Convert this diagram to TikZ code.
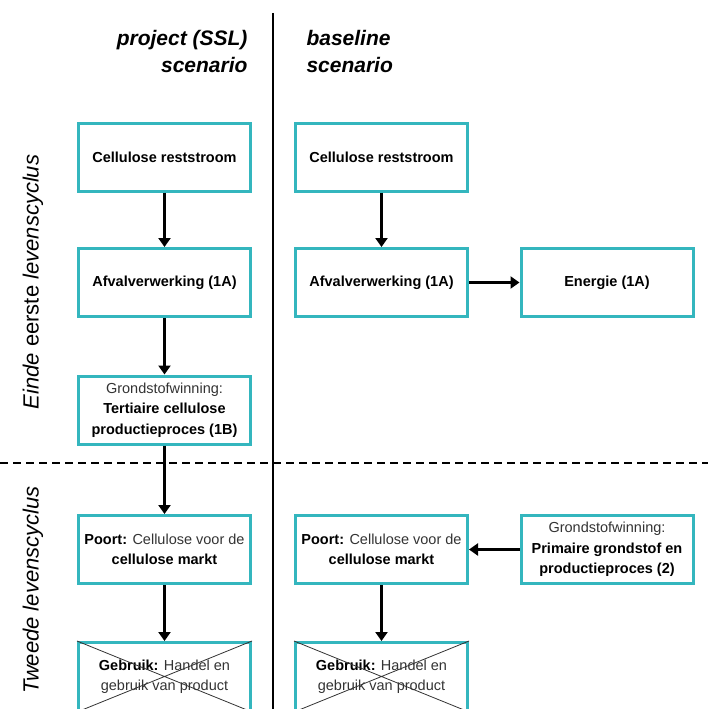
\documentclass[tikz,border=0pt]{standalone}
\usepackage{fontspec}
\setmainfont{Liberation Sans}
\usetikzlibrary{arrows.meta}
\definecolor{boxteal}{RGB}{52,182,190}
\definecolor{txtgray}{RGB}{51,51,51}
\newcommand{\vet}[1]{\textcolor{black}{\textbf{#1}}}

\begin{document}
\begin{tikzpicture}[x=1pt,y=-1pt,
    stap/.style={draw=boxteal,line width=3pt,minimum width=172pt,minimum height=68pt,
      align=center,inner sep=2pt,text=txtgray,font=\fontsize{14.5}{20.5}\selectfont},
    pijl/.style={-{Triangle[width=12pt,length=9pt]},line width=2.8pt},
    kop/.style={font=\fontsize{21}{27}\selectfont\bfseries\itshape},
    zij/.style={rotate=90,font=\fontsize{22}{26}\selectfont}]
    \useasboundingbox (0,0) rectangle (708,709);

    % scheidingslijnen
    \coordinate (lijnboven) at (273,13);
    \coordinate (lijnonder) at (273,709);
    \coordinate (streeplinks) at (0,463);
    \coordinate (streeprechts) at (708,463);
    \draw [line width=2pt] (lijnboven) -- (lijnonder);
    \draw [line width=2pt,dash pattern=on 8pt off 5pt] (streeplinks) -- (streeprechts);

    % koppen
    \node[kop,anchor=east,align=right] (kopproject) at (251,51) {project (SSL)\\scenario};
    \node[kop,anchor=west,align=left] (kopbaseline) at (303,51) {baseline\\scenario};
    \node[zij] (eerste) at (33,282) {\textit{Einde} eerste \textit{levenscyclus}};
    \node[zij] (tweede) at (33,590) {\textit{Tweede levenscyclus}};

    % project scenario
    \node[stap] (reststroomP) at (164.5,157) {\vet{Cellulose reststroom}};
    \node[stap] (afvalP) at (164.5,282.5) {\vet{Afvalverwerking (1A)}};
    \node[stap] (tertiairP) at (164.5,410) {Grondstofwinning:\\\vet{Tertiaire cellulose}\\\vet{productieproces (1B)}};
    \node[stap] (poortP) at (164.5,549.5) {\vet{Poort:} Cellulose voor de\\\vet{cellulose markt}};
    \node[stap] (gebruikP) at (164.5,676.5) {\vet{Gebruik:} Handel en\\gebruik van product};

    % baseline scenario
    \node[stap] (reststroomB) at (381.5,157) {\vet{Cellulose reststroom}};
    \node[stap] (afvalB) at (381.5,282.5) {\vet{Afvalverwerking (1A)}};
    \node[stap] (energieB) at (607,282.5) {\vet{Energie (1A)}};
    \node[stap] (poortB) at (381.5,549.5) {\vet{Poort:} Cellulose voor de\\\vet{cellulose markt}};
    \node[stap] (primairB) at (607,549.5) {Grondstofwinning:\\\vet{Primaire grondstof en}\\\vet{productieproces (2)}};
    \node[stap] (gebruikB) at (381.5,676.5) {\vet{Gebruik:} Handel en\\gebruik van product};

    % kruizen
    \draw [txtgray,line width=0.8pt] (gebruikP.north west) -- (gebruikP.south east)
        (gebruikP.north east) -- (gebruikP.south west);
    \draw [txtgray,line width=0.8pt] (gebruikB.north west) -- (gebruikB.south east)
        (gebruikB.north east) -- (gebruikB.south west);

    \draw [pijl] (reststroomP) -- (afvalP);
    \draw [pijl] (afvalP) -- (tertiairP);
    \draw [pijl] (tertiairP) -- (poortP);
    \draw [pijl] (poortP) -- (gebruikP);

    \draw [pijl] (reststroomB) -- (afvalB);
    \draw [pijl] (afvalB) -- (energieB);
    \draw [pijl] (primairB) -- (poortB);
    \draw [pijl] (poortB) -- (gebruikB);
\end{tikzpicture}
\end{document}
